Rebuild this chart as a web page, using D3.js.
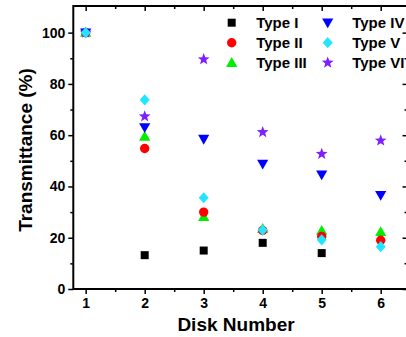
<!DOCTYPE html>
<html><head><meta charset="utf-8">
<script src="https://cdn.jsdelivr.net/npm/d3@7"></script>
<style>
html,body{margin:0;padding:0;background:#fff;}
svg{display:block;font-family:"Liberation Sans",Arial,sans-serif;font-weight:bold;}
</style></head>
<body>
<svg id="chart" width="406" height="337"></svg>
<script>
const diskNumbers = [1, 2, 3, 4, 5, 6];
const seriesNames = ["Type I", "Type II", "Type III", "Type IV", "Type V", "Type VI"];
const typeI   = [null, 13.2, 15.0, 18.0, 14.0, null];
const typeII  = [100, 54.8, 30.0, 22.8, 20.5, 19.0];
const typeIII = [100, 59.5, 28.2, 23.6, 22.8, 22.3];
const typeIV  = [100, 63.0, 58.5, 48.8, 44.6, 36.6];
const typeV   = [100, 73.8, 35.6, 23.0, 19.2, 16.5];
const typeVI  = [100, 67.3, 89.6, 61.2, 52.7, 57.9];
const yTicks = [0, 20, 40, 60, 80, 100];
const colors = ["#000000", "#ff0000", "#00ee00", "#0000ff", "#22e6ff", "#7f1fff"];
const shapes = ["square", "circle", "triUp", "triDown", "diamond", "star"];

const svg = d3.select("#chart");
const xRight = 408.5;
const x = d3.scaleLinear().domain([0.79, 6.5]).range([73.3, 410.2]);
const y = d3.scaleLinear().domain([0, 110]).range([289, 7]);

function shapePath(kind) {
  switch (kind) {
    case "square": return "M-4,-4H4V4H-4Z";
    case "circle": return "M4.7,0A4.7,4.7 0 1,1 -4.7,0A4.7,4.7 0 1,1 4.7,0Z";
    case "triUp": return "M0,-5.6L5.6,4.2L-5.6,4.2Z";
    case "triDown": return "M0,5.6L5.6,-4.2L-5.6,-4.2Z";
    case "diamond": return "M0,-5.6L5,0L0,5.6L-5,0Z";
    case "star": {
      let p = [];
      for (let i = 0; i < 10; i++) {
        const r = i % 2 === 0 ? 6.2 : 2.6;
        const a = -Math.PI / 2 + i * Math.PI / 5;
        p.push([r * Math.cos(a), r * Math.sin(a)]);
      }
      return "M" + p.map(d => d[0].toFixed(2) + "," + d[1].toFixed(2)).join("L") + "Z";
    }
  }
}

// Axes
const g = svg.append("g");
const xMajor = diskNumbers;
const xMinor = [1.5, 2.5, 3.5, 4.5, 5.5];
const yMinor = [10, 30, 50, 70, 90];

const bottomAxis = d3.axisBottom(x).tickValues(xMajor).tickSize(5).tickPadding(4).tickFormat(d3.format("d"));
const leftAxis = d3.axisLeft(y).tickValues(yTicks).tickSize(5).tickPadding(3).tickFormat(d3.format("d"));
g.append("g").attr("transform", "translate(0,289)").call(bottomAxis);
g.append("g").attr("transform", "translate(73.3,0)").call(leftAxis);
g.append("g").attr("transform", "translate(0,289)").call(d3.axisBottom(x).tickValues(xMinor).tickSize(3).tickFormat(""));
g.append("g").attr("transform", "translate(73.3,0)").call(d3.axisLeft(y).tickValues(yMinor).tickSize(3).tickFormat(""));
// Top and right mirror axes with inward ticks
g.append("g").attr("transform", "translate(0,6)").call(d3.axisTop(x).tickValues(xMajor).tickSize(-5).tickFormat(""));
g.append("g").attr("transform", "translate(0,6)").call(d3.axisTop(x).tickValues(xMinor).tickSize(-3).tickFormat(""));
g.append("g").attr("transform", `translate(${xRight},0)`).call(d3.axisRight(y).tickValues(yTicks).tickSize(-6).tickFormat(""));
g.append("g").attr("transform", `translate(${xRight},0)`).call(d3.axisRight(y).tickValues(yMinor).tickSize(-4).tickFormat(""));

g.selectAll(".domain").remove();
g.selectAll(".tick line").attr("stroke", "#000").attr("stroke-width", 1.5);
g.selectAll("text").attr("font-size", 14).attr("font-weight", "bold").attr("fill", "#000")
  .attr("font-family", "Liberation Sans, Arial, sans-serif");

// Frame
svg.append("rect").attr("x", 73.3).attr("y", 6).attr("width", xRight - 73.3).attr("height", 289 - 6)
  .attr("fill", "none").attr("stroke", "#000").attr("stroke-width", 2);

// Axis titles
svg.append("text").attr("x", 236).attr("y", 331).attr("text-anchor", "middle")
  .attr("font-size", 19).text("Disk Number");
svg.append("text").attr("transform", "translate(32,150) rotate(-90)").attr("text-anchor", "middle")
  .attr("font-size", 19).text("Transmittance (%)");

// Data points (draw order to match overlaps)
const allSeries = [typeI, typeII, typeIII, typeIV, typeV, typeVI];
const drawOrder = [2, 1, 0, 3, 5, 4];
drawOrder.forEach(si => {
  const data = diskNumbers.map((d, i) => ({ x: d, v: allSeries[si][i] })).filter(d => d.v !== null);
  svg.append("g").selectAll("path").data(data).enter().append("path")
    .attr("d", shapePath(shapes[si]))
    .attr("transform", d => `translate(${x(d.x)},${y(d.v)})`)
    .attr("fill", colors[si]);
});

// Legend
const legendPos = [[231.7, 22.7], [231.7, 42.7], [231.7, 62.7], [327.7, 22.7], [327.7, 42.7], [327.7, 62.7]];
seriesNames.forEach((name, i) => {
  const [lx, ly] = legendPos[i];
  svg.append("path").attr("d", shapePath(shapes[i])).attr("transform", `translate(${lx},${ly})`).attr("fill", colors[i]);
  svg.append("text").attr("x", lx + 24.5).attr("y", ly + 5.5).attr("font-size", 15).text(name);
});
</script>
</body></html>
